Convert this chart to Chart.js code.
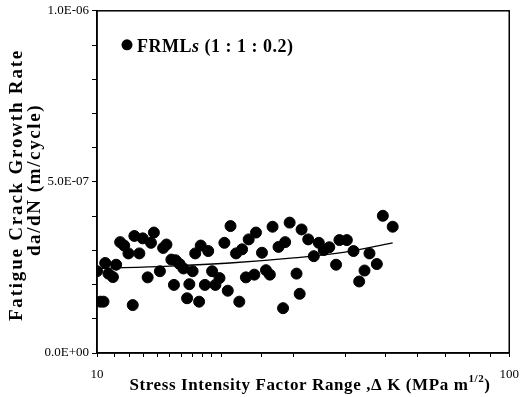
<!DOCTYPE html>
<html>
<head>
<meta charset="utf-8">
<script src="https://cdn.jsdelivr.net/npm/chart.js@4.4.1/dist/chart.umd.min.js"></script>
<style>
  html, body { margin: 0; padding: 0; background: #fff; }
  #wrap { width: 529px; height: 397px; position: relative; }
</style>
</head>
<body>
<div id="wrap"><canvas id="c"></canvas></div>
<script>
// stress intensity factor range, dK (MPa m^1/2)
const deltaK = [10.0, 10.19, 10.37, 10.47, 10.66, 10.93, 11.13, 11.38, 11.64, 11.92,
  12.21, 12.32, 12.67, 12.91, 13.27, 13.52, 13.74, 14.21, 14.47, 14.74,
  15.15, 15.37, 15.51, 15.86, 16.21, 16.54, 16.75, 17.06, 17.31, 17.69,
  17.85, 18.27, 18.61, 19.02, 19.37, 19.82, 20.37, 20.76, 21.08, 21.74,
  22.14, 22.49, 22.97, 23.33, 24.08, 24.30, 25.13, 25.70, 26.26, 26.66,
  27.56, 28.27, 28.60, 29.33, 30.48, 31.02, 31.35, 32.54, 33.57, 34.52,
  35.49, 36.60, 38.01, 38.73, 40.37, 41.90, 43.25, 44.56, 45.81, 47.73,
  49.36, 52.15];
// da/dN (m/cycle)
const growthRate = [2.39e-7, 1.50e-7, 1.50e-7, 2.63e-7, 2.32e-7, 2.22e-7, 2.58e-7, 3.24e-7, 3.14e-7, 2.91e-7,
  1.40e-7, 3.42e-7, 2.91e-7, 3.35e-7, 2.21e-7, 3.22e-7, 3.52e-7, 2.39e-7, 3.07e-7, 3.17e-7,
  2.73e-7, 1.99e-7, 2.71e-7, 2.60e-7, 2.47e-7, 1.60e-7, 2.01e-7, 2.39e-7, 2.91e-7, 1.50e-7,
  3.14e-7, 1.99e-7, 2.98e-7, 2.39e-7, 1.99e-7, 2.19e-7, 3.22e-7, 1.82e-7, 3.71e-7, 2.91e-7,
  1.50e-7, 3.03e-7, 2.21e-7, 3.32e-7, 2.29e-7, 3.52e-7, 2.93e-7, 2.42e-7, 2.29e-7, 3.69e-7,
  3.10e-7, 1.31e-7, 3.24e-7, 3.81e-7, 2.32e-7, 1.73e-7, 3.61e-7, 3.32e-7, 2.83e-7, 3.22e-7,
  3.01e-7, 3.09e-7, 2.58e-7, 3.30e-7, 3.30e-7, 2.98e-7, 2.09e-7, 2.41e-7, 2.91e-7, 2.60e-7,
  4.01e-7, 3.69e-7];
// trend line
const trendK = [10, 15, 21, 30, 40, 52.15];
const trendRate = [2.47e-7, 2.54e-7, 2.63e-7, 2.78e-7, 2.95e-7, 3.22e-7];
const yTickLabels = ['0.0E+00', '5.0E-07', '1.0E-06'];
const xTickLabels = ['10', '100'];
const yTitle = ['Fatigue Crack Growth Rate', 'da/dN (m/cycle)'];

const SERIF = '"Liberation Serif", "Times New Roman", serif';

const framePlugin = {
  id: 'frame',
  afterDraw(chart) {
    const ctx = chart.ctx, a = chart.chartArea;
    ctx.save();
    ctx.strokeStyle = '#000';
    ctx.lineWidth = 1.5;
    ctx.strokeRect(a.left, a.top, a.right - a.left, a.bottom - a.top);

    // legend inside the plot
    ctx.fillStyle = '#000';
    ctx.beginPath();
    ctx.arc(a.left + 30, a.top + 34, 5.5, 0, Math.PI * 2);
    ctx.fill();
    ctx.textBaseline = 'alphabetic';
    ctx.letterSpacing = '0.5px';
    let x = a.left + 40, y = a.top + 41;
    const parts = [['FRML', 'bold'], ['s', 'bold italic'], [' (1 : 1 : 0.2)', 'bold']];
    parts.forEach(p => {
      ctx.font = p[1] + ' 18px ' + SERIF;
      ctx.fillText(p[0], x, y);
      x += ctx.measureText(p[0]).width;
    });

    // x axis title with superscript
    ctx.letterSpacing = '0.6px';
    const main = 'Stress Intensity Factor Range ,\u0394 K (MPa m';
    ctx.font = 'bold 17px ' + SERIF;
    const w1 = ctx.measureText(main).width;
    ctx.font = 'bold 11px ' + SERIF;
    const w2 = ctx.measureText('1/2').width;
    ctx.font = 'bold 17px ' + SERIF;
    const w3 = ctx.measureText(')').width;
    let tx = 310 - (w1 + w2 + w3) / 2;
    const ty = 390;
    ctx.fillText(main, tx, ty);
    tx += w1;
    ctx.font = 'bold 11px ' + SERIF;
    ctx.fillText('1/2', tx, ty - 8);
    tx += w2;
    ctx.font = 'bold 17px ' + SERIF;
    ctx.fillText(')', tx, ty);

    // y axis title, two rotated lines
    ctx.font = 'bold 19px ' + SERIF;
    ctx.textAlign = 'center';
    ctx.textBaseline = 'middle';
    const centers = [[17, 185], [35, 180]];
    const spacing = ['1.8px', '1.6px'];
    yTitle.forEach((t, i) => {
      ctx.save();
      ctx.letterSpacing = spacing[i];
      ctx.translate(centers[i][0], centers[i][1]);
      ctx.rotate(-Math.PI / 2);
      ctx.fillText(t, 0, 0);
      ctx.restore();
    });
    ctx.restore();
  }
};

new Chart(document.getElementById('c'), {
  data: {
    datasets: [
      {
        type: 'scatter',
        data: deltaK.map((k, i) => ({ x: k, y: growthRate[i] })),
        backgroundColor: '#000',
        borderColor: '#000',
        pointRadius: 5.5,
        pointHoverRadius: 5.5
      },
      {
        type: 'line',
        data: trendK.map((k, i) => ({ x: k, y: trendRate[i] })),
        borderColor: '#000',
        borderWidth: 1.3,
        pointRadius: 0,
        tension: 0.4,
        fill: false
      }
    ]
  },
  options: {
    responsive: true,
    maintainAspectRatio: false,
    animation: false,
    layout: { padding: { left: 0, right: 11, top: 10, bottom: 0 } },
    plugins: { legend: { display: false }, tooltip: { enabled: false } },
    scales: {
      x: {
        type: 'logarithmic',
        min: 10,
        max: 100,
        border: { display: true, color: '#000', width: 1.5 },
        grid: { drawOnChartArea: false, drawTicks: true, tickLength: 4, color: '#000' },
        ticks: {
          autoSkip: false,
          maxRotation: 0,
          padding: 10,
          color: '#000',
          font: { family: SERIF, size: 13 },
          callback: v => v === 10 ? xTickLabels[0] : (v === 100 ? xTickLabels[1] : '')
        },
        afterFit: s => { s.height = 44; }
      },
      y: {
        min: 0,
        max: 1e-6,
        border: { display: true, color: '#000', width: 1.5 },
        grid: { drawOnChartArea: false, drawTicks: true, tickLength: 5, color: '#000' },
        ticks: {
          stepSize: 1e-7,
          autoSkip: false,
          padding: 3,
          color: '#000',
          font: { family: SERIF, size: 13 },
          callback: (v, i) => i === 0 ? yTickLabels[0] : (i === 5 ? yTickLabels[1] : (i === 10 ? yTickLabels[2] : ''))
        },
        afterFit: s => { s.width = 97; }
      }
    }
  },
  plugins: [framePlugin]
});
</script>
</body>
</html>
